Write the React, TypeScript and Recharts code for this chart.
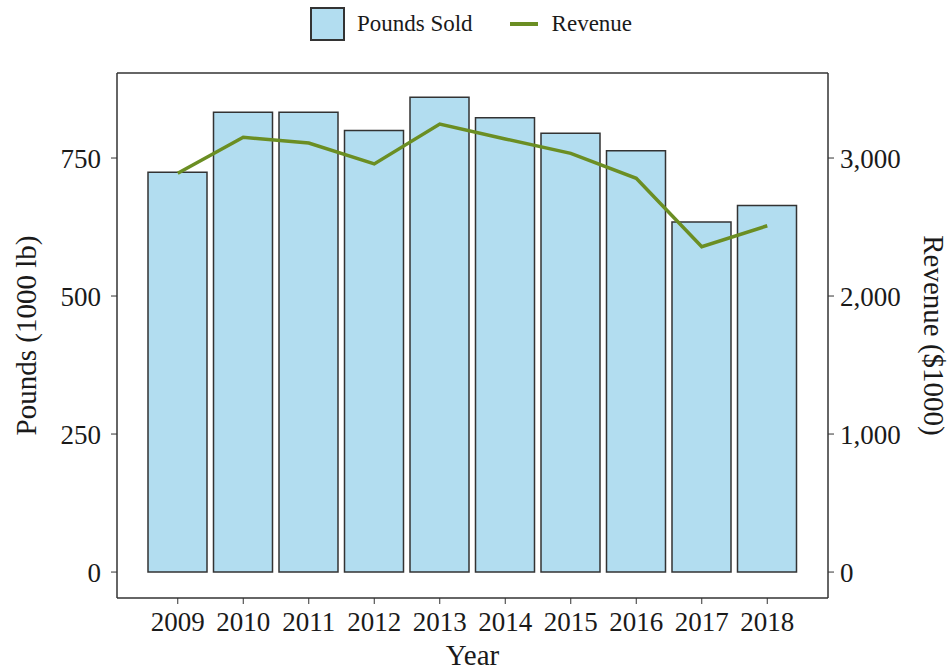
import { Bar, ComposedChart, Label, Legend, Line, XAxis, YAxis } from "recharts";

const years = ["2009", "2010", "2011", "2012", "2013", "2014", "2015", "2016", "2017", "2018"];
const poundsSold = [724, 833, 833, 800, 860, 823, 795, 763, 634, 664];
const revenue = [2889, 3150, 3109, 2957, 3246, 3138, 3034, 2853, 2357, 2509];
const poundTicks = [0, 250, 500, 750];
const revenueTicks = [0, 1000, 2000, 3000];

const FONT = "Liberation Serif";
const INK = "#1a1a1a";
const AXIS = "#333333";
const BAR_FILL = "#b2ddf0";
const LINE = "#6b8e23";

const data = years.map((y, i) => ({ year: y, pounds: poundsSold[i], revenue: revenue[i] }));

function ChartLegend() {
  return (
    <div
      style={{
        height: 48,
        width: 952,
        display: "flex",
        alignItems: "center",
        justifyContent: "center",
        fontFamily: FONT,
        fontSize: 23,
        color: INK,
        paddingRight: 10,
        boxSizing: "border-box",
      }}
    >
      <span
        style={{
          width: 31,
          height: 30,
          background: BAR_FILL,
          border: `2px solid ${AXIS}`,
          marginRight: 12,
        }}
      />
      <span>Pounds Sold</span>
      <span style={{ width: 28, height: 4, background: LINE, marginLeft: 37, marginRight: 14 }} />
      <span>Revenue</span>
    </div>
  );
}

const tickStyle = { fill: INK, fontSize: 27, fontFamily: FONT };

export default function App() {
  return (
    <div style={{ position: "absolute", left: 0, top: 0, width: 952, height: 672, background: "#fff" }}>
      <ComposedChart
        width={952}
        height={672}
        data={data}
        margin={{ top: 24, right: 0, bottom: 0, left: 0 }}
      >
        <Legend
          verticalAlign="top"
          content={() => <ChartLegend />}
          wrapperStyle={{ top: 0, left: 0, height: 48, width: 952 }}
        />
        <XAxis
          dataKey="year"
          height={74}
          padding={{ left: 28, right: 28 }}
          tick={tickStyle}
          tickSize={6}
          tickMargin={8}
          axisLine={{ stroke: AXIS, strokeWidth: 1.5 }}
          tickLine={{ stroke: AXIS }}
          interval={0}
        >
          <Label
            content={({ viewBox }: any) => (
              <text
                x={viewBox.x + viewBox.width / 2}
                y={viewBox.y + 67}
                textAnchor="middle"
                fontFamily={FONT}
                fontSize={29}
                fill={INK}
              >
                Year
              </text>
            )}
          />
        </XAxis>
        <XAxis
          xAxisId="top"
          orientation="top"
          dataKey="year"
          height={1}
          tick={false}
          tickLine={false}
          axisLine={{ stroke: AXIS, strokeWidth: 1.5 }}
        />
        <YAxis
          yAxisId="left"
          width={117}
          domain={[-47, 904]}
          allowDataOverflow
          ticks={poundTicks}
          tick={tickStyle}
          tickSize={6}
          tickMargin={10}
          axisLine={{ stroke: AXIS, strokeWidth: 1.5 }}
          tickLine={{ stroke: AXIS }}
        >
          <Label
            content={({ viewBox }: any) => {
              const cx = 26;
              const cy = viewBox.y + viewBox.height / 2;
              return (
                <text
                  x={cx}
                  y={cy}
                  transform={`rotate(-90, ${cx}, ${cy})`}
                  textAnchor="middle"
                  dominantBaseline="central"
                  fontFamily={FONT}
                  fontSize={29}
                  fill={INK}
                >
                  Pounds (1000 lb)
                </text>
              );
            }}
          />
        </YAxis>
        <YAxis
          yAxisId="right"
          orientation="right"
          width={124}
          domain={[-188, 3616]}
          allowDataOverflow
          ticks={revenueTicks}
          tickFormatter={(v: number) => v.toLocaleString("en-US")}
          tick={tickStyle}
          tickSize={6}
          tickMargin={6}
          axisLine={{ stroke: AXIS, strokeWidth: 1.5 }}
          tickLine={{ stroke: AXIS }}
        >
          <Label
            content={({ viewBox }: any) => {
              const cx = 934;
              const cy = viewBox.y + viewBox.height / 2;
              return (
                <text
                  x={cx}
                  y={cy}
                  transform={`rotate(90, ${cx}, ${cy})`}
                  textAnchor="middle"
                  dominantBaseline="central"
                  fontFamily={FONT}
                  fontSize={29}
                  fill={INK}
                >
                  Revenue ($1000)
                </text>
              );
            }}
          />
        </YAxis>
        <Bar
          yAxisId="left"
          dataKey="pounds"
          name="Pounds Sold"
          barSize={59}
          fill={BAR_FILL}
          stroke={AXIS}
          strokeWidth={1.5}
          isAnimationActive={false}
        />
        <Line
          yAxisId="right"
          dataKey="revenue"
          name="Revenue"
          type="linear"
          stroke={LINE}
          strokeWidth={3.5}
          dot={false}
          activeDot={false}
          isAnimationActive={false}
        />
      </ComposedChart>
    </div>
  );
}
